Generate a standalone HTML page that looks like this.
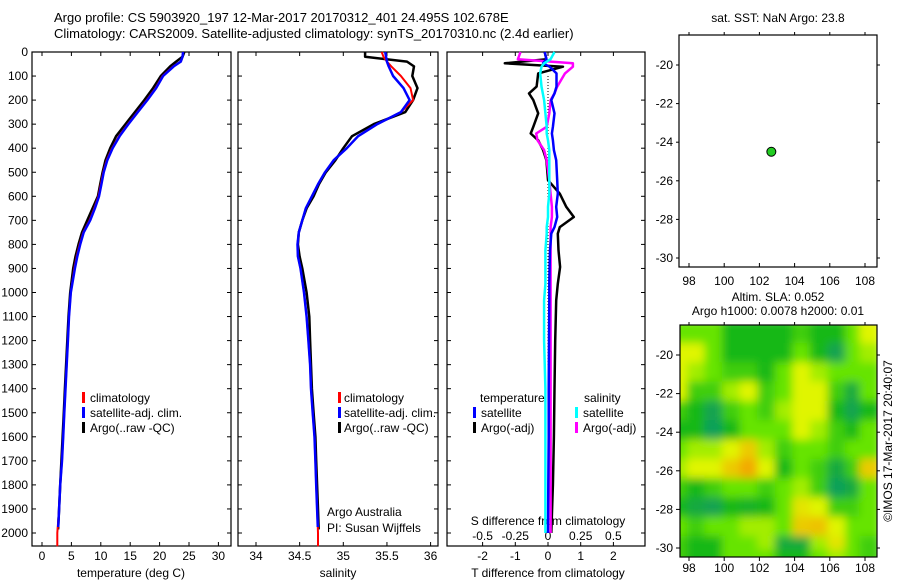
<!DOCTYPE html>
<html><head><meta charset="utf-8"><style>
body{margin:0;background:#fff}
svg{display:block;font-family:"Liberation Sans",sans-serif}
</style></head><body>
<svg id="c" width="900" height="580" viewBox="0 0 900 580" xmlns="http://www.w3.org/2000/svg">
<defs>
<filter id="blur" x="-5%" y="-5%" width="110%" height="110%"><feGaussianBlur stdDeviation="4.5"/></filter>
<clipPath id="mapclip"><rect x="680" y="325" width="197" height="232"/></clipPath>
</defs>
<text x="54" y="22" font-size="13">Argo profile: CS 5903920_197 12-Mar-2017 20170312_401 24.495S 102.678E</text>
<text x="54" y="38" font-size="13">Climatology: CARS2009. Satellite-adjusted climatology: synTS_20170310.nc (2.4d earlier)</text>
<text x="778" y="22" font-size="12" text-anchor="middle">sat. SST: NaN Argo: 23.8</text>
<text x="778" y="301" font-size="12" text-anchor="middle">Altim. SLA: 0.052</text>
<text x="778" y="315" font-size="12" text-anchor="middle">Argo h1000: 0.0078 h2000: 0.01</text>
<text transform="translate(892,441) rotate(-90)" font-size="12" text-anchor="middle">©IMOS 17-Mar-2017 20:40:07</text>
<g id="g"></g>
</svg>
<script>
// ---------- data ----------
const depths = [0,20,40,60,100,150,200,250,300,350,400,450,500,550,600,650,700,750,800,850,900,1000,1100,1200,1300,1400,1500,1600,1700,1800,1900,2000];
const tempClim = [24.0,23.9,23.6,22.3,20.5,19.3,17.8,16.2,14.6,13.1,11.9,11.0,10.4,10.0,9.6,8.9,8.1,7.0,6.4,5.9,5.5,4.9,4.6,4.4,4.2,4.0,3.8,3.6,3.4,3.1,2.9,2.6];
const tempSat  = [24.0,23.9,23.6,22.4,20.6,19.4,17.9,16.3,14.7,13.2,12.0,11.1,10.5,10.1,9.7,9.0,8.2,7.1,6.5,6.0,5.6,4.9,4.6,4.4,4.2,4.0,3.8,3.6,3.4,3.1,2.9,2.7];
const tempArgo = [24.2,23.9,22.8,21.8,20.2,18.9,17.4,15.8,14.2,12.6,11.6,10.8,10.3,9.9,9.5,8.6,7.7,6.8,6.2,5.7,5.3,4.8,4.5,4.3,4.1,3.9,3.7,3.5,3.3,3.1,2.9,2.7];
const salClim = [35.44,35.46,35.50,35.55,35.66,35.77,35.80,35.66,35.39,35.17,35.04,34.89,34.79,34.71,34.64,34.57,34.53,34.49,34.475,34.48,34.51,34.55,34.58,34.60,34.62,34.63,34.65,34.67,34.68,34.69,34.70,34.71];
const salSat  = [35.48,35.49,35.50,35.52,35.57,35.69,35.76,35.66,35.39,35.17,35.04,34.89,34.79,34.71,34.64,34.57,34.53,34.49,34.475,34.48,34.51,34.55,34.58,34.60,34.62,34.63,34.65,34.67,34.68,34.69,34.70,34.71];
const salArgo = [35.25,35.25,35.73,35.81,35.79,35.85,35.80,35.71,35.35,35.10,35.00,34.91,34.80,34.72,34.66,34.58,34.53,34.49,34.48,34.50,34.53,34.58,34.61,34.62,34.63,34.64,34.66,34.68,34.69,34.70,34.71,34.72];
const dDepths = [0,30,47,61,89,144,172,200,255,311,339,367,408,450,533,589,644,686,728,755,825,894,964,1033,1200,1400,1600,1800,2000];
const dTsat  = [-0.10,-0.05,-0.15,0.05,0.26,0.26,0.20,0.10,0.20,0.15,0.12,0.15,0.18,0.25,0.28,0.30,0.25,0.28,0.20,0.10,0.06,0.05,0.04,0.04,0.03,0.02,0.02,0.01,0.00];
const dTargo = [-0.10,-0.05,-1.32,0.46,-0.30,-0.35,-0.58,-0.45,-0.30,-0.45,-0.53,-0.30,-0.15,-0.05,0.00,0.36,0.56,0.79,0.36,0.30,0.32,0.37,0.30,0.25,0.22,0.20,0.18,0.15,0.10];
const dSsat  = [0.05,0.02,-0.03,-0.05,-0.06,-0.05,-0.04,-0.03,-0.02,-0.01,-0.01,0.00,0.01,0.01,0.01,0.01,0.00,0.00,-0.01,-0.01,-0.02,-0.02,-0.02,-0.03,-0.03,-0.02,-0.02,-0.02,-0.02];
const dSargo = [-0.21,-0.23,0.19,0.19,0.13,0.07,0.05,0.02,0.01,-0.01,-0.09,-0.08,-0.03,-0.01,0.01,0.02,0.03,0.03,0.02,0.02,0.02,0.02,0.02,0.02,0.02,0.02,0.02,0.02,0.02];
const depthTicks = [0,100,200,300,400,500,600,700,800,900,1000,1100,1200,1300,1400,1500,1600,1700,1800,1900,2000];
const tempTicks = [0,5,10,15,20,25,30];
const salTicks = [34,34.5,35,35.5,36];
const tTicks = [-2,-1,0,1,2];
const sTicks = [-0.5,-0.25,0,0.25,0.5];
const sTickLabels = ["-0.5","-0.25","0","0.25","0.5"];
const lonTicks = [98,100,102,104,106,108];
const latTicks = [-20,-22,-24,-26,-28,-30];
const argoLon = 102.678, argoLat = -24.495;
const gridLons = [97.5,98.5,99.5,100.5,101.5,102.5,103.5,104.5,105.5,106.5,107.5,108.3];
const gridLats = [-18.8,-20,-21,-22,-23,-24,-25,-26,-27,-28,-29,-30,-30.7];
const sla = [
[2,2,2,1,1,1,1,1.5,1,1,2,3],
[3,3,2,1,1,1,1,2,1,0.3,2,2.5],
[3,2.5,2,1.5,1.5,1,2,3,2.5,2,2,2],
[3,1.5,1.5,2.5,3,1.5,2,3,3,1.5,0.5,2],
[1.5,1,0.3,1.5,2,1.5,2.5,3,3,1,0.3,1],
[1,1,0.2,1,2,2,2,3,2.5,1.5,1,2],
[2,2.5,2.5,3,3.5,2.5,1.5,2,2,1.5,2,2],
[2.5,3,3,3.5,3.9,3,1,2,1.5,0.5,1.5,3.5],
[1.5,1,1.5,2,2,1.5,2,2.5,1.5,0.2,0.5,2],
[1,0.5,0.3,1,0.8,1,2,3.2,3,1.5,1.5,2],
[2,1.5,2,2,2.5,2.5,2,3.5,3.6,3,2,2],
[1.5,1,1,2,2,2.5,0.5,0.5,2.5,3.2,2,1.5],
[1.5,1,1,2,2,2,1,1,2,2.5,2,1.5]];

// ---------- helpers ----------
const NS="http://www.w3.org/2000/svg";
const G=document.getElementById('g');
function mk(tag,attrs,parent){const e=document.createElementNS(NS,tag);for(const k in attrs)e.setAttribute(k,attrs[k]);(parent||G).appendChild(e);return e;}
const yD = d => 52 + 0.2405*d;
const xT = v => 42 + 5.88*v;
const xS = v => 256 + 87.3*(v-34);
const xDT = v => 548 + 32.7*v;
const xDS = v => 548 + 130.8*v;
const xLon = v => 689 + 17.6*(v-98);
const yLat1 = v => 65 + 19.3*(-20 - v);
const yLat2 = v => 355 + 19.3*(-20 - v);

function frame(x0,y0,x1,y1,name){
  const r=mk('rect',{x:x0,y:y0,width:x1-x0,height:y1-y0,fill:'none',stroke:'#000','stroke-width':1.2});
  
  
}
function line(xs,ds,xf,color,w,name,maxD){
  let p='';
  for(let i=0;i<ds.length;i++){
    let d=ds[i], v=xs[i];
    if(maxD!==undefined && d>maxD){
      const f=(maxD-ds[i-1])/(d-ds[i-1]); v=xs[i-1]+(xs[i]-xs[i-1])*f; d=maxD;
      p+='L'+xf(v).toFixed(1)+','+yD(d).toFixed(1); break;
    }
    p+=(p?'L':'M')+xf(v).toFixed(1)+','+yD(d).toFixed(1);
  }
  const e=mk('path',{d:p,fill:'none',stroke:color,'stroke-width':w,'stroke-linejoin':'round'});
  
  
}
function txt(x,y,s,size,anchor,name){
  const e=mk('text',{x:x,y:y,'font-size':size,'text-anchor':anchor||'start'});
  e.textContent=s;
  
  
  return e;
}
function depthTickMarks(x0,x1){
  depthTicks.forEach(d=>{const y=yD(d);mk('line',{x1:x0,y1:y,x2:x0+4,y2:y,stroke:'#000'});mk('line',{x1:x1,y1:y,x2:x1-4,y2:y,stroke:'#000'});});
}
function xTickMarks(vals,f,y0,y1){
  vals.forEach(v=>{const x=f(v);mk('line',{x1:x,y1:y1,x2:x,y2:y1-4,stroke:'#000'});mk('line',{x1:x,y1:y0,x2:x,y2:y0+4,stroke:'#000'});});
}
const PB=546;

// ---------- panel 1 temperature ----------
frame(32,52,231,PB,'temperature-plot-area');
depthTickMarks(32,231);
depthTicks.forEach(d=>{txt(28,yD(d)+4,String(d),12,'end','depth-tick-label');});
xTickMarks(tempTicks,xT,52,PB);
tempTicks.forEach(v=>txt(xT(v),560,String(v),12,'middle','temp-tick-label'));
txt(131,577,'temperature (deg C)',12,'middle','temp-axis-title');
line(tempArgo,depths,xT,'#000',2.5,'temp-argo-line',1985);
line(tempClim.concat([2.6]),depths.concat([2055]),xT,'#f00',2,'temp-clim-line');
line(tempSat,depths,xT,'#00f',2.5,'temp-sat-line',1975);
[['#f00','climatology'],['#00f','satellite-adj. clim.'],['#000','Argo(..raw -QC)']].forEach((l,i)=>{
  const b=mk('rect',{x:82,y:392+i*15,width:3,height:11,fill:l[0]});
  
  
  txt(90,402+i*15,l[1],12,'start','temp-legend-label');
});

// ---------- panel 2 salinity ----------
frame(238,52,438,PB,'salinity-plot-area');
depthTickMarks(238,438);
xTickMarks(salTicks,xS,52,PB);
salTicks.forEach(v=>txt(xS(v),560,String(v),12,'middle','sal-tick-label'));
txt(338,577,'salinity',12,'middle','sal-axis-title');
line(salArgo,depths,xS,'#000',2.5,'sal-argo-line',1985);
line(salClim.concat([34.71]),depths.concat([2055]),xS,'#f00',2,'sal-clim-line');
line(salSat,depths,xS,'#00f',2.5,'sal-sat-line',1975);
[['#f00','climatology'],['#00f','satellite-adj. clim.'],['#000','Argo(..raw -QC)']].forEach((l,i)=>{
  const b=mk('rect',{x:338,y:392+i*15,width:3,height:11,fill:l[0]});
  
  
  txt(344,402+i*15,l[1],12,'start','sal-legend-label');
});
txt(327,516,'Argo Australia',12,'start','credit-argo-australia');
txt(327,532,'PI: Susan Wijffels',12,'start','credit-pi');

// ---------- panel 3 differences ----------
frame(447,52,645,PB,'difference-plot-area');
depthTickMarks(447,645);
xTickMarks(tTicks,xDT,52,PB);
tTicks.forEach(v=>txt(xDT(v),560,String(v),12,'middle','tdiff-tick-label'));
txt(548,577,'T difference from climatology',12,'middle','tdiff-axis-title');
txt(548,525,'S difference from climatology',12,'middle','sdiff-axis-title');
sTicks.forEach((v,i)=>txt(xDS(v),540,sTickLabels[i],12,'middle','sdiff-tick-label'));
mk('line',{x1:548,y1:yD(100),x2:548,y2:yD(1300),stroke:'#000','stroke-dasharray':'1,2'});
line(dTargo,dDepths,xDT,'#000',2.5,'tdiff-argo-line');
line(dSargo,dDepths,xDS,'#f0f',2.5,'sdiff-argo-line');
line(dTsat,dDepths,xDT,'#00f',2.5,'tdiff-sat-line');
line(dSsat,dDepths,xDS,'#0ff',2.5,'sdiff-sat-line');
txt(480,402,'temperature',12,'start','diff-legend-temperature');
txt(584,402,'salinity',12,'start','diff-legend-salinity');
[['#00f','satellite',473],['#000','Argo(-adj)',473],['#0ff','satellite',575],['#f0f','Argo(-adj)',575]].forEach((l,i)=>{
  const row=i%2;
  const b=mk('rect',{x:l[2],y:407+row*15,width:3,height:11,fill:l[0]});
  
  
  txt(l[2]+8,417+row*15,l[1],12,'start','diff-legend-label');
});

// ---------- map 1 ----------
frame(679,35,877,267,'sst-map-area');
lonTicks.forEach(v=>{const x=xLon(v);mk('line',{x1:x,y1:267,x2:x,y2:263,stroke:'#000'});mk('line',{x1:x,y1:35,x2:x,y2:32,stroke:'#000'});txt(x,285,String(v),12,'middle','sst-lon-label');});
latTicks.forEach(v=>{const y=yLat1(v);mk('line',{x1:679,y1:y,x2:676,y2:y,stroke:'#000'});mk('line',{x1:877,y1:y,x2:880,y2:y,stroke:'#000'});txt(673,y+4,String(v),12,'end','sst-lat-label');});
const dot=mk('circle',{cx:xLon(argoLon),cy:yLat1(argoLat),r:4.5,fill:'#22cc22',stroke:'#000','stroke-width':1});



// ---------- map 2 heatmap ----------
const cols=['#0f9a6a','#18b818','#66e400','#e0f500','#f5a000'];
function col(v){const i=Math.min(3,Math.floor(v));const t=v-i;const a=cols[i],b=cols[Math.min(4,i+1)];
  const p=s=>[1,3,5].map(k=>parseInt(s.substr(k,2),16));const A=p(a),B=p(b);
  return 'rgb('+A.map((c,k)=>Math.round(c+(B[k]-c)*t)).join(',')+')';}
const hg=mk('g',{'clip-path':'url(#mapclip)'});
const hb=mk('g',{filter:'url(#blur)'},hg);
for(let r=0;r<gridLats.length;r++){for(let c=0;c<gridLons.length;c++){
  const cx=xLon(gridLons[c]), cy=yLat2(gridLats[r]);
  const cell=mk('rect',{x:cx-11,y:cy-12,width:22,height:24,fill:col(sla[r][c])},hb);
  
  
}}
frame(680,325,877,557,'sla-map-area');
lonTicks.forEach(v=>{const x=xLon(v);mk('line',{x1:x,y1:557,x2:x,y2:561,stroke:'#000'});mk('line',{x1:x,y1:325,x2:x,y2:322,stroke:'#000'});txt(x,572,String(v),12,'middle','sla-lon-label');});
latTicks.forEach(v=>{const y=yLat2(v);mk('line',{x1:680,y1:y,x2:676,y2:y,stroke:'#000'});mk('line',{x1:877,y1:y,x2:880,y2:y,stroke:'#000'});txt(673,y+4,String(v),12,'end','sla-lat-label');});
</script>
</body></html>
